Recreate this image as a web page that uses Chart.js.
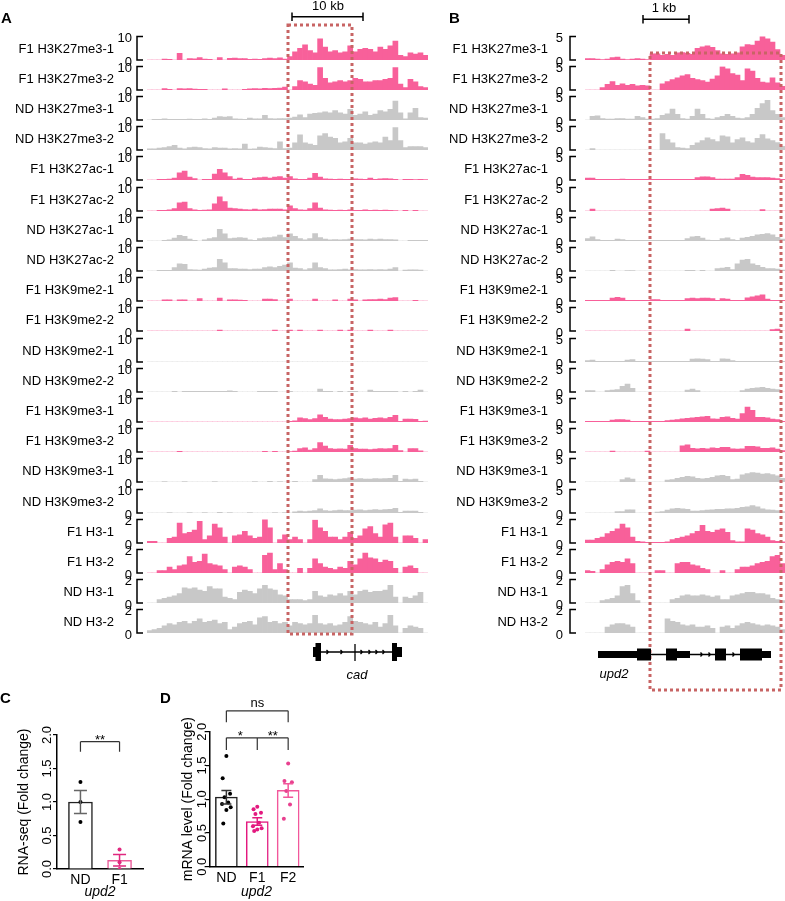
<!DOCTYPE html>
<html>
<head>
<meta charset="utf-8">
<script src="https://cdn.jsdelivr.net/npm/chart.js@4.4.1/dist/chart.umd.min.js"></script>
<style>
body { margin: 0; background: #fff; width: 785px; height: 901px; position: relative; overflow: hidden; }
canvas { position: absolute; }
#ann { position: absolute; left: 0; top: 0; z-index: 5; }
</style>
</head>
<body>
<svg id="ann" width="785" height="901" font-family="Liberation Sans, Arial, sans-serif">
  <text x="1" y="23" font-size="15" font-weight="bold">A</text>
  <text x="449" y="23" font-size="15" font-weight="bold">B</text>
  <text x="0" y="703" font-size="15" font-weight="bold">C</text>
  <text x="160" y="703" font-size="15" font-weight="bold">D</text>
  <path d="M292 16.7H363M292 12.5V21M363 12.5V21" stroke="#000" stroke-width="1.5" fill="none"/>
  <text x="328" y="10" text-anchor="middle" font-size="13">10 kb</text>
  <path d="M643 19.3H689M643 15V23.5M689 15V23.5" stroke="#000" stroke-width="1.5" fill="none"/>
  <text x="664" y="12" text-anchor="middle" font-size="13">1 kb</text>
  <rect x="288" y="25" width="64" height="609" fill="none" stroke="#c86464" stroke-width="3" stroke-dasharray="3 3"/>
  <rect x="650" y="53" width="131" height="637" fill="none" stroke="#c86464" stroke-width="3" stroke-dasharray="3 3"/>
  <!-- cad gene model -->
  <g fill="#000" stroke="none">
    <rect x="313" y="647" width="3" height="10"/>
    <rect x="315.5" y="643" width="5.5" height="18"/>
    <rect x="392" y="643" width="5" height="18"/>
    <rect x="396.5" y="647" width="5.5" height="10"/>
  </g>
  <path d="M313 652H402M355 644V661M326.5 650L328.5 652L326.5 654M340.5 650L342.5 652L340.5 654M360.5 650L362.5 652L360.5 654M368.5 650L370.5 652L368.5 654M375.5 650L377.5 652L375.5 654M382.5 650L384.5 652L382.5 654" stroke="#000" stroke-width="1.3" fill="none"/>
  <text x="357" y="679" text-anchor="middle" font-size="13" font-style="italic">cad</text>
  <!-- upd2 gene model -->
  <g fill="#000" stroke="none">
    <rect x="598" y="651" width="39" height="7"/>
    <rect x="637" y="648.5" width="14" height="12"/>
    <rect x="666" y="648.5" width="11" height="12"/>
    <rect x="677" y="651" width="13" height="7"/>
    <rect x="715" y="648.5" width="11" height="12"/>
    <rect x="740" y="648.5" width="22" height="12"/>
    <rect x="762" y="651" width="9" height="7"/>
  </g>
  <path d="M598 654.5H771M700.5 652.5L702.5 654.5L700.5 656.5M708.5 652.5L710.5 654.5L708.5 656.5M732.5 652.5L734.5 654.5L732.5 656.5" stroke="#000" stroke-width="1.3" fill="none"/>
  <text x="614" y="678" text-anchor="middle" font-size="13" font-style="italic">upd2</text>
</svg>
<script>
const pink = '#f8609a'
const gray = '#c8c8c8'
const FONT = "'Liberation Sans', Arial, sans-serif"
Chart.defaults.font.family = FONT
Chart.defaults.color = '#000'

// ---- panel A (cad locus), 56 bins each ----
const aF1K27me3_1 = [0,0,0,0.4,0.3,0,2.8,0,0.6,0.5, 1,0.4,0.3,0,1,0,0.7,0.8,0.6,0.6, 0.3,0.4,0.3,0.6,0.8,0.6,0.9,0.4,1.5,3.5, 5,6.5,4,3,9,5.5,3.5,4,3,3.5, 6,3.5,4.5,5,4.5,3.5,5.5,4.5,6,8, 2,1.5,3,2.5,3,2]
const aF1K27me3_2 = [0,0,0,0.6,0.3,0,0.6,0.5,0.6,0.4, 0.3,0.3,0,0,0,0.5,0,0,0,0.3, 0.5,0.6,0.5,0.7,0.6,0.7,0.8,1.2,0,1.5, 4,3.5,2.5,2,9.5,5,3,3.5,4,3.5, 4,5,4.5,3.5,3.5,4,4,4.5,5,9.5, 2.5,1,4.5,3.5,1.5,1]
const aNDK27me3_1 = [0,0.3,0.3,0.5,0.3,0.3,0.3,0.3,0.4,0.3, 0.3,0.5,0.3,0.8,1.5,1.2,1.5,0.5,0.4,0.3, 0.8,0.5,0.5,2,0.6,0.5,0.6,0.6,0.8,1.2, 2.2,1,2.5,2.8,3,3.5,3,4,3,2.5, 4.5,2,2.5,3.5,2,2.5,4,3.5,4.5,8, 3,0.5,3,5,1,0.8]
const aNDK27me3_2 = [0.5,0.5,0.8,1,1.5,2,0.8,0.5,1,1.2, 1,0.6,0.5,1,0.8,0.8,0.5,0.6,0.5,2.5, 0.4,0.5,1.2,1,0.8,0.6,3.5,0.6,0.8,3, 6.5,3,2.5,2,6,7,5.5,5,3,3.5, 5,3,3,2.5,3,3.5,3,5.5,4,9.5, 4,1,1.5,1.5,1.5,1]
const aF1K27ac_1 = [0,0,0.3,0.3,0.4,0.8,3,3.8,1.2,0.6, 0,0.3,0.3,2.5,4.5,3,1.5,0.4,0.8,0.3, 0.3,0.8,1,1.2,0.8,1.2,1.5,0.8,1.5,0.5, 0.3,0.3,0.8,2.8,1.2,0.5,0.4,0.3,0.4,0.3, 0.3,0.5,0.4,0.3,0.8,0.3,0.5,0.6,0.5,0.3, 0,0.3,0.3,0.2,0.3,0.2]
const aF1K27ac_2 = [0,0,0.3,0.3,0.5,1,3.5,3.8,1,0.5, 0.3,0.4,0.5,3,6,4,1.2,1,0.8,0.6, 0.5,0.8,0.5,0.6,0.8,0.8,0.8,0.5,2.2,1, 0.5,0.4,1,3.5,1.2,0.5,0.4,0.3,0.4,0.3, 0.5,0.3,0.3,0.5,0.3,0.4,0.3,0.4,0.3,0.2, 0,0.3,0,0.3,0,0]
const aNDK27ac_1 = [0,0,0,0.3,0.5,1.2,2.4,2,0.8,0.3, 0,0.5,1,1.5,5,3,1,1.2,1.5,1.2, 0.5,0.3,1,1.3,1.5,1.8,2.5,1.5,3,2, 1,0.5,1,3.2,1.5,0.8,0.5,0.6,0.5,0.6, 0.8,0.6,0.6,0.5,0.8,0.6,0.8,0.6,0.6,0.5, 0,0,0.3,0.3,0.3,0.3]
const aNDK27ac_2 = [0,0,0.3,0.3,0.3,1.5,3,2.8,0.6,0.5, 0.4,0.8,1.2,1.5,5,3.5,1,1,0.8,0.8, 0.6,0.8,0.8,1.5,1.8,1.5,2,2.5,3.5,1.2, 1,0.5,1,3.5,1.5,1,0.5,0.5,0.6,0.8, 0.5,0.6,0.5,0.5,0.6,0.5,0.6,0.5,0.8,1.5, 0,0.4,0.5,0.5,0.4,0]
const aF1K9me2_1 = [0,0,0,0.5,0.5,0,0.5,0.5,0,0, 1,0,0,0,1.2,0,0.5,0.5,0.4,0.3, 0,0,0,0.8,0.8,0.6,0,0,0.8,0, 0,0,0,0.8,0,0,0,0.5,0,0, 0.8,0.5,0,0.5,0.6,0.6,0.8,0.6,1.2,1.5, 0,0,0,0.3,0,0]
const aF1K9me2_2 = [0,0,0,0,0,0,0,0,0,0, 0,0,0,0,0.4,0,0,0,0,0, 0,0,0,0,0,0.4,0,0,0.4,0, 0.4,0,0,0,0.4,0,0,0,0.4,0, 0.4,0,0,0,0.4,0,0,0,0.4,0, 0,0,0,0,0,0]
const aNDK9me2_1 = [0,0,0,0,0,0,0,0,0,0, 0,0,0,0,0,0,0,0,0,0, 0,0,0,0,0,0,0,0,0,0, 0,0,0,0,0,0,0,0,0,0, 0,0,0,0,0,0,0,0,0,0, 0,0,0,0,0,0]
const aNDK9me2_2 = [0,0,0,0,0,0.3,0,0.3,0.3,0.3, 0.3,0.3,0.3,0.3,0.3,0.3,0.5,0.3,0,0, 0,0,0.3,0.3,0.3,0.3,0,0,0.3,0, 0,0,0,0,1.2,0.3,0.3,0,0.3,0, 0.3,0.3,0,0,0.8,0.3,0.3,0.3,0.3,0.3, 0,0.3,0,0.3,0.8,0]
const aF1K9me3_1 = [0,0,0,0,0,0,0,0,0,0, 0,0,0,0,0,0,0,0,0,0, 0,0,0,0,0,0,0,0,0.3,0.5, 1.8,1.5,1,1.5,3,2,1.2,1,1,1.2, 1.5,1.8,1.5,1.8,1.2,1.6,1.8,1.5,2,2.8, 0.3,1.2,1.2,1.1,0.3,0.4]
const aF1K9me3_2 = [0,0,0,0,0,0,0.3,0,0,0, 0,0,0,0,0,0,0,0,0,0, 0,0,0,0.3,0,0.3,0,0,0.2,0.4, 1.5,1.8,0.8,1.5,4,2.5,1.5,1.2,1.3,1.2, 2.8,1.5,1.2,1.2,1,1.2,1.5,1.3,1.5,2.8, 0.6,0,1.5,1.5,0.5,0]
const aNDK9me3_1 = [0,0,0,0.2,0,0,0,0.2,0,0, 0,0,0,0.2,0,0,0,0,0,0, 0,0.2,0,0,0.3,0,0.2,0,0,0.3, 0,0,0,1,2.8,1.3,1.2,1,1.2,1.5, 1.8,1.2,1.5,1.2,1.2,1.5,1.4,1.5,1.6,2.8, 0.3,1.2,1,1.2,0.3,0]
const aNDK9me3_2 = [0,0,0,0,0.2,0,0,0,0.2,0, 0,0.2,0,0,0.3,0,0.2,0,0,0, 0.2,0,0,0,0,0.2,0,0.2,0,0.5, 0.8,0.6,0.8,1,1.8,1,0.8,1,1.2,1, 1,1.2,1.3,1,1.2,1.5,1.2,1.5,1.6,2, 0.3,0.8,0.8,0.8,0.3,0]
const aF1H3_1 = [0.15,0.15,0,0,0.4,0.5,1.7,0.8,0.9,1.1, 1.85,0.3,0.6,1.6,1.3,0.5,0,0.6,0.7,1, 0.6,0.4,0.5,2.2,1.3,0,0.3,0.7,0.3,0.5, 0.3,0,0.3,1.95,1.3,1,0.5,0.5,0.3,0.5, 0.9,0.4,0.6,1.2,1.4,0.8,0.5,1.55,1.7,0.5, 0,0.6,0.6,0.4,0,0.3]
const aF1H3_2 = [0,0,0.2,0.2,0.5,0.3,0.6,0.7,1.4,0.9, 1,1.6,0.8,0.7,0.6,0.3,0,0.5,0.6,0.5, 0.3,0,0,1.5,1.7,0.3,0.8,0.3,0,0, 0.4,0,0.4,1.2,0.8,0.5,0.4,0.3,0.5,0.4, 1,0.7,1.2,1.7,1.3,1.2,0.9,1.1,1,0.4, 0,0.5,0.6,0.4,0,0]
const aNDH3_1 = [0,0,0.3,0.4,0.5,0.6,0.8,1.3,1.2,1.3, 1.1,1,1.4,1.2,1.2,0.5,0.4,0.3,0.9,1.1, 1,0.8,1.2,1.5,1.2,1.1,0.7,0.6,0.3,0.3, 0.3,0.2,0.3,1,0.6,0.5,0.7,0.6,0.8,0.6, 1,0.7,1,1.1,0.9,1,1,1.1,1.5,0.5, 0,0.5,0.4,0.6,0.9,0]
const aNDH3_2 = [0.2,0.3,0.4,0.6,0.8,0.7,0.9,1,0.8,1, 1.2,0.9,1,1.1,0.8,0.9,0.3,0.5,0.8,0.9, 1,0.7,1.3,1.4,0.9,1,0.8,0.9,0.6,0.9, 0.8,0.7,0.8,1.5,0.8,0.7,0.8,0.6,0.7,0.9, 1.4,1,0.9,0.8,0.7,0.9,0.5,0.8,1.5,0.6, 0,0.4,0.6,0.5,0.4,0]

// ---- panel B (upd2 locus), 40 bins each ----
const bF1K27me3_1 = [0.3,0.3,0.2,0.1,0.2,0.5,0.6,0.2,0.1,0.2, 0.3,0.2,0.1,1.3,1.3,1,1.2,1,1.5,1.6, 1.4,1.2,2.5,2.8,3,2.7,2,1.3,1.2,1.3, 1.5,2.8,3.3,3.2,4,5.1,4.5,3.8,2.2,1]
const bF1K27me3_2 = [0,0,0,0.5,1.2,1.8,1,1.3,1,1.2, 0.9,1,0.9,0,0,1.3,1.8,2.2,2.6,3, 3.3,2.5,2.2,2,1.7,2.3,3,5,4.5,3.5, 3.2,2,4.5,4,2.5,1.7,1.5,2.6,1.5,0.8]
const bNDK27me3_1 = [0,0.8,0.9,0.3,0.2,0.2,0.3,0.3,0.2,0.2, 0.8,0.5,0.2,0.2,0.3,1,1.3,2.3,1.2,0.3, 0.2,0.8,2.3,1.2,0.3,0.2,0.5,0.8,1.2,0.8, 0.4,0.3,0.5,1.2,2.5,3.5,4.2,2,1.2,0.5]
const bNDK27me3_2 = [0,0.3,0,0,0,0,0,0,0,0, 0,0,0,0,0,3.5,2.2,1.5,0.5,0.4, 0.3,1,1.5,2,2.6,2.2,1.8,3,2.8,1.5, 2.2,2.6,1.8,1.5,2.5,3.3,2.4,2,1.6,0.8]
const bF1K27ac_1 = [0.4,0.4,0.15,0.15,0.15,0.15,0.15,0.2,0.15,0.15, 0.15,0.15,0.15,0.15,0.15,0.15,0.15,0.15,0.15,0.15, 0.15,0.15,0.5,0.7,0.7,0.5,0.2,0.2,0.2,0.2, 0.5,1.2,1,0.6,0.5,0.5,0.5,0.4,0.3,0.15]
const bF1K27ac_2 = [0,0.4,0,0,0,0,0,0,0,0, 0,0,0,0,0,0,0,0,0,0, 0,0,0,0,0,0.4,0.5,0.6,0.4,0, 0,0,0,0,0,0.3,0,0,0,0]
const bNDK27ac_1 = [0.5,0.9,0.3,0.15,0.15,0.15,0.4,0.3,0.15,0.15, 0.15,0.15,0.15,0.15,0.15,0.15,0.15,0.15,0.15,0.15, 0.5,0.9,1,0.6,0.2,0.15,0.15,0.5,0.7,0.3, 0.15,0.6,0.8,1,1.3,1.4,1.6,1.3,0.8,0.4]
const bNDK27ac_2 = [0,0,0,0,0,0.15,0,0,0.1,0.1, 0,0,0,0,0,0,0,0,0,0, 0.15,0.15,0,0.15,0,0,0.5,0.6,0.8,0.3, 1.5,2.3,2.5,1.5,1.2,0.8,0.5,0.5,0.4,0.2]
const bF1K9me2_1 = [0.15,0.15,0.15,0.15,0.15,0.6,0.8,0.6,0.15,0.15, 0.15,0.15,0.15,0.3,0.3,0.15,0.15,0.15,0.15,0.15, 0.5,0.6,0.5,0.6,0.6,0.5,0.15,0.5,0.4,0.15, 0.15,0.15,0.7,0.9,1.1,1.3,0.4,0.15,0.15,0.15]
const bF1K9me2_2 = [0,0,0,0,0,0,0,0,0,0, 0,0,0,0,0,0,0,0,0,0, 0.4,0,0,0,0,0,0,0,0,0, 0,0,0,0,0,0,0,0.3,0.4,0]
const bNDK9me2_1 = [0.3,0.4,0.15,0.15,0.15,0.15,0.15,0.15,0.4,0.5, 0.15,0.15,0.15,0.15,0.15,0.15,0.15,0.15,0.15,0.15, 0.15,0.6,0.7,0.6,0.5,0.15,0.15,0.7,0.6,0.3, 0.15,0.15,0.15,0.15,0.15,0.15,0.15,0.15,0.15,0.15]
const bNDK9me2_2 = [0.3,0.3,0,0,0.3,0.4,0.5,1.2,1.7,0.8, 0,0,0,0,0,0,0,0,0,0, 0.4,0.6,0.3,0,0,0,0,0,0,0, 0,0.3,0.6,0.8,0.9,1,0.8,0.6,0.5,0]
const bF1K9me3_1 = [0.15,0.15,0.15,0.15,0.15,0.4,0.5,0.5,0.4,0.15, 0.15,0.15,0.15,0.15,0.15,0.15,0.3,0.4,0.5,0.7, 0.8,0.9,1,1.1,1.2,0.7,0.6,1,1.1,0.8, 0.6,1.8,3.2,2.5,1,1,0.9,0.6,0.5,0.15]
const bF1K9me3_2 = [0,0,0,0,0,0.2,0,0,0,0, 0,0,0.2,0,0,0,0,0,0,1.3, 1.5,0.8,0.7,0.8,0.7,0.9,0.8,1,1,0.7, 0.6,0.7,1.2,1.2,1.1,0.8,0.8,0.9,0.6,0.3]
const bNDK9me3_1 = [0,0,0,0,0,0,0,0.5,0.9,0.6, 0,0,0,0,0,0,0.4,0.5,0.8,1, 1.2,1.1,0.8,0.7,0.8,1,1.3,1.4,1.2,0.5, 0.6,1.5,1.8,2,1.9,1.7,1.8,1.6,1.3,0.8]
const bNDK9me3_2 = [0,0,0,0,0,0,0.3,0.3,0.7,0.7, 0,0,0,0,0.2,0.3,0.6,0.9,1,0.9, 0.8,0.4,0.4,0.5,0.6,0.7,0.8,0.8,0.9,0.9, 1,1.2,1.3,1.6,1.3,0.9,0.7,0.6,0.5,0.3]
const bF1H3_1 = [0.25,0.25,0.4,0.5,0.8,1,1.2,1.6,1.3,0.5, 0.15,0.1,0.06,0.06,0.06,0.06,0.1,0.3,0.4,0.5, 0.6,0.8,1,1.5,1,0.9,1.1,1.2,0.9,0.2, 0.1,0.1,1.2,1.1,0.8,0.7,0.5,0.2,0.15,0.1]
const bF1H3_2 = [0.2,0.15,0,0.3,0.7,0.9,1,0.9,1.2,0.8, 0,0,0,0,0.2,0.2,0,0,0.8,0.9, 0.9,0.7,0.6,0.4,0.3,0,0,0.2,0,0, 0.3,0.5,0.5,0.6,0.8,0.9,1,1.4,1.5,0.8]
const bNDH3_1 = [0,0,0,0.2,0.3,0.4,0.6,1.4,1.5,0.8, 0.2,0,0,0,0,0,0,0.3,0.4,0.6, 0.7,0.6,0.6,0.7,0.6,0.5,0.6,0.3,0.3,0.6, 0.7,0.8,0.9,0.9,0.8,0.8,0.7,0.4,0.3,0.2]
const bNDH3_2 = [0,0,0,0,0.5,0.7,0.8,0.8,0.7,0.5, 0,0,0,0,0,0,1.2,1,0.9,0.7, 0.6,0.7,0.5,0.5,0.6,0.4,0,0.5,0.6,0.4, 0.6,0.8,0.9,0.8,0.7,0.6,0.7,0.6,0.5,0.3]

const trackNames = ['F1 H3K27me3-1','F1 H3K27me3-2','ND H3K27me3-1','ND H3K27me3-2',
  'F1 H3K27ac-1','F1 H3K27ac-2','ND H3K27ac-1','ND H3K27ac-2',
  'F1 H3K9me2-1','F1 H3K9me2-2','ND H3K9me2-1','ND H3K9me2-2',
  'F1 H3K9me3-1','F1 H3K9me3-2','ND H3K9me3-1','ND H3K9me3-2',
  'F1 H3-1','F1 H3-2','ND H3-1','ND H3-2']
const tracksA = [aF1K27me3_1,aF1K27me3_2,aNDK27me3_1,aNDK27me3_2,aF1K27ac_1,aF1K27ac_2,aNDK27ac_1,aNDK27ac_2,
  aF1K9me2_1,aF1K9me2_2,aNDK9me2_1,aNDK9me2_2,aF1K9me3_1,aF1K9me3_2,aNDK9me3_1,aNDK9me3_2,aF1H3_1,aF1H3_2,aNDH3_1,aNDH3_2]
const tracksB = [bF1K27me3_1,bF1K27me3_2,bNDK27me3_1,bNDK27me3_2,bF1K27ac_1,bF1K27ac_2,bNDK27ac_1,bNDK27ac_2,
  bF1K9me2_1,bF1K9me2_2,bNDK9me2_1,bNDK9me2_2,bF1K9me3_1,bF1K9me3_2,bNDK9me3_1,bNDK9me3_2,bF1H3_1,bF1H3_2,bNDH3_1,bNDH3_2]
const maxA = [10,10,10,10,10,10,10,10,10,10,10,10,10,10,10,10,2,2,2,2]
const maxB = [5,5,5,5,5,5,5,5,5,5,5,5,5,5,5,5,2,2,2,2]

// ---- panels C and D ----
const groupsC = ['ND', 'F1']
const meanC = [1.0, 0.13]
const semC = [0.17, 0.085]
const dotsC = [[1.3, 1.0, 0.7], [0.29, 0.1, 0.0]]

const groupsD = ['ND', 'F1', 'F2']
const meanD = [1.03, 0.67, 1.13]
const semD = [0.1, 0.055, 0.1]
const dotsD = [[1.64, 1.31, 1.08, 1.03, 0.95, 0.93, 0.88, 0.84, 0.64],
  [0.89, 0.85, 0.80, 0.78, 0.65, 0.60, 0.57, 0.55, 0.53],
  [1.53, 1.27, 1.25, 1.12, 0.92, 0.71]]

const bracketsC = [{from: 0, to: 1, y: 1.9, drop: 0.15, legs: [0, 1], text: [['**', 0.5]]}]
const bracketsD = [
  {from: 0, to: 2, y: 2.31, drop: 0.17, legs: [0, 2], text: [['ns', 1]]},
  {from: 0, to: 2, y: 1.91, drop: 0.18, legs: [0, 1, 2], text: [['*', 0.45], ['**', 1.5]]}
]

const trackDecor = {
  id: 'trackDecor',
  afterDraw(chart, args, opts) {
    const {ctx, chartArea, scales} = chart
    const top = scales.y.getPixelForValue(scales.y.max)
    const bot = scales.y.getPixelForValue(0)
    const bx = chartArea.left - opts.bracketGap
    ctx.save()
    ctx.strokeStyle = '#000'
    ctx.lineWidth = 1.5
    ctx.beginPath()
    ctx.moveTo(bx + 6, top); ctx.lineTo(bx, top); ctx.lineTo(bx, bot); ctx.lineTo(bx + 6, bot)
    ctx.stroke()
    ctx.font = '13px ' + FONT
    ctx.fillStyle = '#000'
    ctx.textAlign = 'right'
    ctx.textBaseline = 'middle'
    ctx.fillText(opts.label, chartArea.left - opts.labelGap, bot - 11)
    ctx.restore()
  }
}

function makeTrack(panel, k) {
  const values = panel.tracks[k]
  const max = panel.max[k]
  const base = 59.5 + 30.2 * k
  const c = document.createElement('canvas')
  c.width = panel.width
  c.height = 44
  c.style.left = panel.left + 'px'
  c.style.top = (base - 33) + 'px'
  document.body.appendChild(c)
  new Chart(c, {
    type: 'bar',
    data: {
      labels: values.map((v, i) => i),
      datasets: [{
        data: values,
        backgroundColor: trackNames[k].startsWith('F1') ? pink : gray,
        borderWidth: 0,
        barPercentage: 1,
        categoryPercentage: 1
      }]
    },
    options: {
      responsive: false,
      animation: false,
      devicePixelRatio: 1,
      layout: {padding: {left: 0, right: panel.padRight, top: 9.5, bottom: 11}},
      scales: {
        x: {display: false},
        y: {
          min: 0,
          max: max,
          afterBuildTicks: s => { s.ticks = [{value: 0}, {value: max}] },
          afterFit: s => { s.width = panel.plotLeft - panel.left },
          grid: {display: false, drawTicks: true, tickLength: panel.tickPad},
          border: {display: false},
          ticks: {padding: 0, labelOffset: 2, font: {size: 13}, color: '#000'}
        }
      },
      plugins: {
        legend: {display: false},
        tooltip: {enabled: false},
        trackDecor: {label: trackNames[k], bracketGap: panel.bracketGap, labelGap: panel.labelGap}
      }
    },
    plugins: [trackDecor]
  })
}

const panelA = {tracks: tracksA, max: maxA, left: 0, width: 440, plotLeft: 147, padRight: 12, tickPad: 15, bracketGap: 10, labelGap: 33}
const panelB = {tracks: tracksB, max: maxB, left: 440, width: 345, plotLeft: 585, padRight: 0, tickPad: 22, bracketGap: 15, labelGap: 37}
for (let k = 0; k < 20; k++) {
  makeTrack(panelA, k)
  makeTrack(panelB, k)
}

// error bars, brackets and rotated y tick labels
const barDecor = {
  id: 'barDecor',
  afterDatasetsDraw(chart, args, opts) {
    const {ctx, scales: {x, y}} = chart
    ctx.save()
    opts.mean.forEach((m, i) => {
      const px = x.getPixelForValue(i)
      const y1 = y.getPixelForValue(m - opts.sem[i]), y2 = y.getPixelForValue(m + opts.sem[i])
      ctx.strokeStyle = opts.errColors[i]
      ctx.lineWidth = 1.5
      ctx.beginPath()
      ctx.moveTo(px, y1); ctx.lineTo(px, y2)
      ctx.moveTo(px - opts.cap, y1); ctx.lineTo(px + opts.cap, y1)
      ctx.moveTo(px - opts.cap, y2); ctx.lineTo(px + opts.cap, y2)
      ctx.stroke()
    })
    ctx.strokeStyle = '#333'
    ctx.fillStyle = '#000'
    ctx.lineWidth = 1.2
    ctx.font = '13px ' + FONT
    ctx.textAlign = 'center'
    ctx.textBaseline = 'alphabetic'
    opts.brackets.forEach(b => {
      const yy = y.getPixelForValue(b.y)
      const yl = y.getPixelForValue(b.y - b.drop)
      ctx.beginPath()
      ctx.moveTo(x.getPixelForValue(b.from), yy); ctx.lineTo(x.getPixelForValue(b.to), yy)
      b.legs.forEach(l => { ctx.moveTo(x.getPixelForValue(l), yy); ctx.lineTo(x.getPixelForValue(l), yl) })
      ctx.stroke()
      b.text.forEach(([t, tx]) => {
        ctx.fillText(t, x.getPixelForValue(tx), yy + (t === 'ns' ? -4 : 2))
      })
    })
    ctx.restore()
  },
  afterDraw(chart, args, opts) {
    const {ctx, scales: {y}} = chart
    ctx.save()
    ctx.font = '13px ' + FONT
    ctx.fillStyle = '#000'
    ctx.textAlign = 'center'
    ctx.textBaseline = 'middle'
    y.ticks.forEach(t => {
      ctx.save()
      ctx.translate(y.right - opts.labelGap, y.getPixelForValue(t.value))
      ctx.rotate(-Math.PI / 2)
      ctx.fillText(t.value.toFixed(1), 0, 0)
      ctx.restore()
    })
    ctx.restore()
  }
}

const jitter = [0, -0.12, 0.12, -0.06, 0.06, -0.14, 0.14, 0, -0.1]

function makeBarChart(cfg) {
  const c = document.createElement('canvas')
  c.width = cfg.width
  c.height = cfg.height
  c.style.left = cfg.left + 'px'
  c.style.top = cfg.top + 'px'
  document.body.appendChild(c)
  const dotSets = cfg.dots.map((vals, g) => ({
    type: 'scatter',
    order: 1,
    data: vals.map((v, j) => ({x: g + (cfg.jitter ? jitter[j % jitter.length] : 0), y: v})),
    pointRadius: 2,
    pointBackgroundColor: cfg.dotColors[g],
    pointBorderWidth: 0
  }))
  new Chart(c, {
    type: 'bar',
    data: {
      datasets: [...dotSets, {
        type: 'bar',
        order: 2,
        data: cfg.mean.map((m, i) => ({x: i, y: m})),
        backgroundColor: '#fff',
        borderColor: cfg.barColors,
        borderWidth: 1.5,
        barThickness: cfg.barWidth
      }]
    },
    options: {
      responsive: false,
      animation: false,
      devicePixelRatio: 1,
      layout: {padding: {left: 0, right: cfg.padRight, top: cfg.padTop, bottom: 0}},
      scales: {
        x: {
          type: 'linear',
          offset: false,
          min: cfg.xmin,
          max: cfg.xmax,
          afterBuildTicks: s => { s.ticks = cfg.groups.map((g, i) => ({value: i})) },
          afterFit: s => { s.height = cfg.xAxisHeight },
          ticks: {callback: v => cfg.groups[v], font: {size: 14}, color: '#000', padding: 3, autoSkip: false},
          grid: {display: false, drawTicks: false},
          border: {display: true, color: '#000', width: 1.5},
          title: {display: true, text: 'upd2', font: {size: 14, style: 'italic'}, color: '#000', padding: {top: 0, bottom: 0}}
        },
        y: {
          min: 0,
          max: 2,
          ticks: {stepSize: 0.5, display: false},
          afterFit: s => { s.width = cfg.yAxisWidth },
          grid: {display: true, drawOnChartArea: false, drawTicks: true, tickLength: 4, color: '#000', lineWidth: 1.2},
          border: {display: true, color: '#000', width: 1.5},
          title: {display: true, text: cfg.yTitle, font: {size: 14}, color: '#000', padding: {top: cfg.titlePad, bottom: 0}}
        }
      },
      plugins: {
        legend: {display: false},
        tooltip: {enabled: false},
        barDecor: {mean: cfg.mean, sem: cfg.sem, errColors: cfg.errColors, cap: cfg.cap, brackets: cfg.brackets, labelGap: cfg.labelGap}
      }
    },
    plugins: [barDecor]
  })
}

makeBarChart({
  left: 0, top: 690, width: 160, height: 211,
  groups: groupsC, mean: meanC, sem: semC, dots: dotsC, brackets: bracketsC,
  xmin: -0.6, xmax: 1.6, padRight: 17, padTop: 45, xAxisHeight: 32, yAxisWidth: 57,
  barWidth: 24, cap: 6.5, titlePad: 16, labelGap: 10, jitter: false,
  yTitle: 'RNA-seq (Fold change)',
  barColors: ['#222', '#ea5c9a'], dotColors: ['#000', '#e0287f'], errColors: ['#666', '#e0287f']
})

makeBarChart({
  left: 160, top: 690, width: 160, height: 211,
  groups: groupsD, mean: meanD, sem: semD, dots: dotsD, brackets: bracketsD,
  xmin: -0.53, xmax: 2.48, padRight: 17, padTop: 41.7, xAxisHeight: 34.3, yAxisWidth: 50,
  barWidth: 22, cap: 5, titlePad: 20, labelGap: 8, jitter: true,
  yTitle: 'mRNA level (Fold change)',
  barColors: ['#222', '#e3197f', '#f2579b'], dotColors: ['#000', '#e3197f', '#e8408f'], errColors: ['#333', '#e3197f', '#f2579b']
})
</script>
</body>
</html>
